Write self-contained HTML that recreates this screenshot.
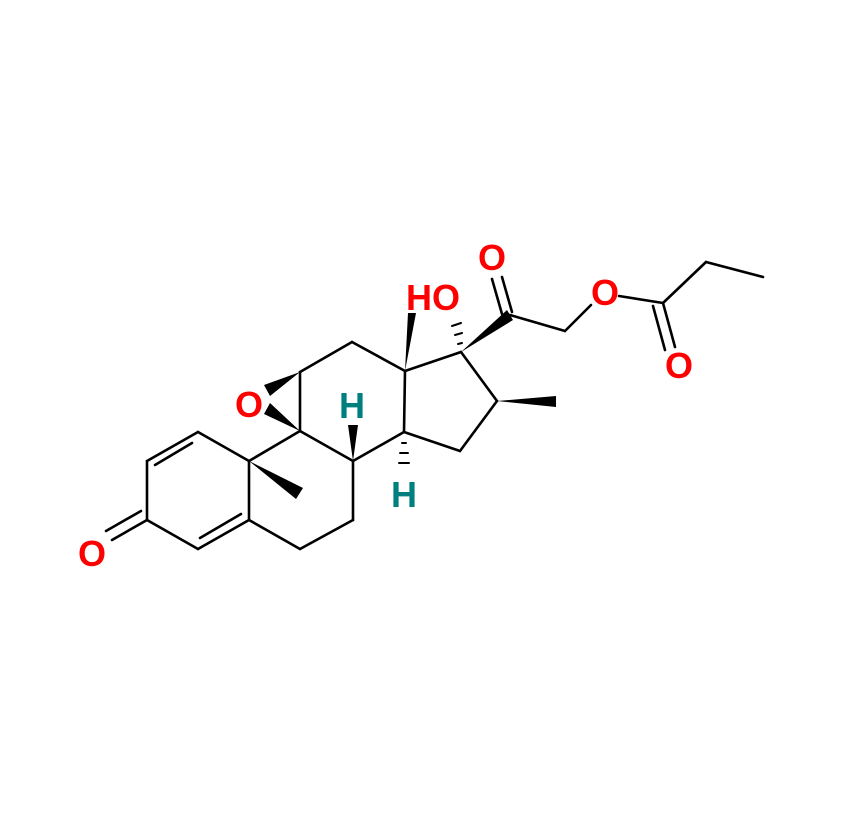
<!DOCTYPE html>
<html><head><style>body{margin:0;background:#fff}svg{display:block}</style></head><body>
<svg width="841" height="817" viewBox="0 0 841 817" xmlns="http://www.w3.org/2000/svg">
<g stroke="#000" stroke-width="2.6" fill="none" stroke-linecap="round">
<line x1="198" y1="432" x2="147" y2="461"/>
<line x1="192" y1="443" x2="155" y2="465"/>
<line x1="147" y1="461" x2="147" y2="520"/>
<line x1="147" y1="520" x2="198" y2="549"/>
<line x1="198" y1="549" x2="249" y2="520"/>
<line x1="200" y1="538" x2="241" y2="514"/>
<line x1="249" y1="520" x2="249" y2="461"/>
<line x1="249" y1="461" x2="198" y2="432"/>
<line x1="147" y1="520" x2="112" y2="540"/>
<line x1="141" y1="511" x2="106" y2="531"/>
<line x1="249" y1="520" x2="300" y2="549"/>
<line x1="300" y1="549" x2="353" y2="520"/>
<line x1="353" y1="520" x2="353" y2="461"/>
<line x1="353" y1="461" x2="300" y2="431"/>
<line x1="300" y1="431" x2="249" y2="461"/>
<line x1="300" y1="431" x2="300" y2="372"/>
<line x1="300" y1="372" x2="352" y2="342"/>
<line x1="352" y1="342" x2="405" y2="371"/>
<line x1="405" y1="371" x2="404" y2="432"/>
<line x1="404" y1="432" x2="353" y2="461"/>
<line x1="405" y1="371" x2="461" y2="352"/>
<line x1="461" y1="352" x2="497" y2="401"/>
<line x1="497" y1="401" x2="460" y2="451"/>
<line x1="460" y1="451" x2="404" y2="432"/>
<line x1="510" y1="315" x2="565" y2="331"/>
<line x1="565" y1="331" x2="591" y2="305"/>
<line x1="619" y1="296" x2="663" y2="303"/>
<line x1="663" y1="303" x2="706" y2="262"/>
<line x1="706" y1="262" x2="763" y2="277"/>
<line x1="663" y1="303" x2="675" y2="347"/>
<line x1="653" y1="306" x2="665" y2="350"/>
<line x1="512" y1="312" x2="502" y2="277"/>
<line x1="502" y1="314" x2="492" y2="279"/>
<g stroke-width="2">
<line x1="458" y1="344" x2="462" y2="343"/>
<line x1="455" y1="335" x2="462" y2="333"/>
<line x1="452" y1="326" x2="461" y2="323"/>
<line x1="402" y1="443" x2="406" y2="443"/>
<line x1="400" y1="453" x2="408" y2="453"/>
<line x1="399" y1="463" x2="409" y2="463"/>
</g>
</g>
<g fill="#000">
<polygon points="405,371 408,313 416,313"/>
<polygon points="461,352 507,310 513,320"/>
<polygon points="497,401 556,396 556,407"/>
<polygon points="353,461 348,425 358,425"/>
<polygon points="249,461 296,499 303,488"/>
<polygon points="300,372 264,385 270,396"/>
<polygon points="300,431 264,414 270,403"/>
</g>
<g font-family="Liberation Sans, sans-serif" font-weight="bold" font-size="36" text-anchor="middle">
<text x="92" y="566" fill="#f00">O</text>
<text x="249" y="417" fill="#f00">O</text>
<text x="433" y="310" fill="#f00">HO</text>
<text x="492" y="270" fill="#f00">O</text>
<text x="605" y="305" fill="#f00">O</text>
<text x="679" y="378" fill="#f00">O</text>
<text x="352" y="418" fill="#007f7f">H</text>
<text x="404" y="507" fill="#007f7f">H</text>
</g>
</svg>
</body></html>
